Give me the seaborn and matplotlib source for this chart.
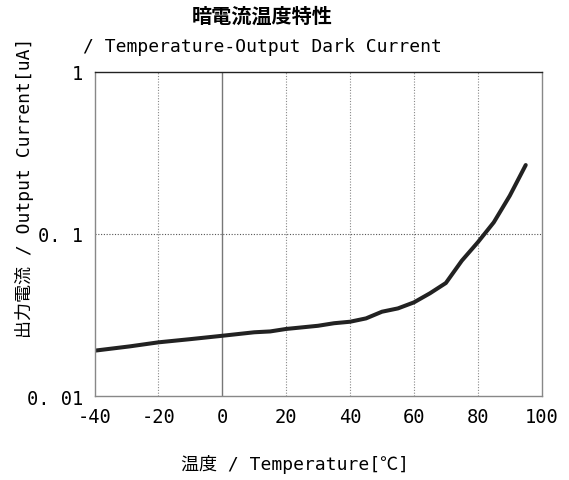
import numpy as np
import pandas as pd
import matplotlib
matplotlib.use('Agg')
import matplotlib.pyplot as plt
import seaborn as sns

# curve (temperature in degC, dark current in uA)
temperature = [-40, -29, -20, -10, 0, 10, 15, 20, 30, 35, 40, 45, 50, 55, 60, 65, 70, 75, 80, 85, 90, 95]
dark_current = [0.0191, 0.0203, 0.0215, 0.0225, 0.0236, 0.0248, 0.0251, 0.0260, 0.0272, 0.0282,
                0.0288, 0.0302, 0.0332, 0.0348, 0.0379, 0.0431, 0.0499, 0.0685, 0.0889, 0.118,
                0.172, 0.266]

x_ticks = [-40, -20, 0, 20, 40, 60, 80, 100]
y_ticks = [0.01, 0.1, 1]
y_tick_labels = ['0. 01', '0. 1', '1']

title_jp = '暗電流温度特性'
title_en = '/ Temperature-Output Dark Current'
xlabel = '温度 / Temperature[℃]'
ylabel = '出力電流 / Output Current[uA]'

sns.set_style('white')
fonts = ['DejaVu Sans Mono', 'Noto Sans CJK JP']
plt.rcParams['font.family'] = fonts

df = pd.DataFrame({'T': temperature, 'I': dark_current})

fig = plt.figure(figsize=(5.69, 4.81), dpi=100)
ax = fig.add_axes([94.5 / 569, 1 - 397.3 / 481, (541.7 - 94.5) / 569, (397.3 - 72.7) / 481])

sns.lineplot(data=df, x='T', y='I', ax=ax, color='#222222', linewidth=2.9, sort=False)

ax.set_yscale('log')
ax.set_xlim(-40, 100)
ax.set_ylim(0.01, 1)
ax.set_xticks(x_ticks)
ax.set_xticklabels([str(t) for t in x_ticks])
ax.set_yticks(y_ticks)
ax.set_yticklabels(y_tick_labels)
ax.yaxis.set_minor_locator(matplotlib.ticker.NullLocator())
ax.tick_params(length=0, labelsize=13.5, colors='black', pad=8)
ax.set_xlabel('')
ax.set_ylabel('')

# grid: dotted verticals, dotted horizontal at 0.1, solid gray at 0
for t in x_ticks[1:-1]:
    if t == 0:
        ax.axvline(t, color='#777777', lw=1.0, zorder=1)
    else:
        ax.axvline(t, color='#888888', lw=0.8, ls=(0, (1, 1.5)), zorder=1)
ax.axhline(0.1, color='#555555', lw=0.8, ls=(0, (1, 1.5)), zorder=1)

for side in ['left', 'right', 'bottom']:
    ax.spines[side].set_color('#888888')
    ax.spines[side].set_linewidth(1.0)
ax.spines['top'].set_color('#222222')
ax.spines['top'].set_linewidth(1.0)

fig.text(262 / 569, 1 - 17 / 481, title_jp, ha='center', va='center', fontsize=14.5,
         fontweight='bold', color='black')
fig.text(262 / 569, 1 - 47 / 481, title_en, ha='center', va='center', fontsize=13, color='black')
fig.text(295 / 569, 1 - 464 / 481, xlabel, ha='center', va='center', fontsize=13, color='black')
fig.text(25 / 569, 1 - 188 / 481, ylabel, ha='center', va='center', rotation=90, fontsize=13,
         color='black')

fig.savefig('out.png', dpi=100)
